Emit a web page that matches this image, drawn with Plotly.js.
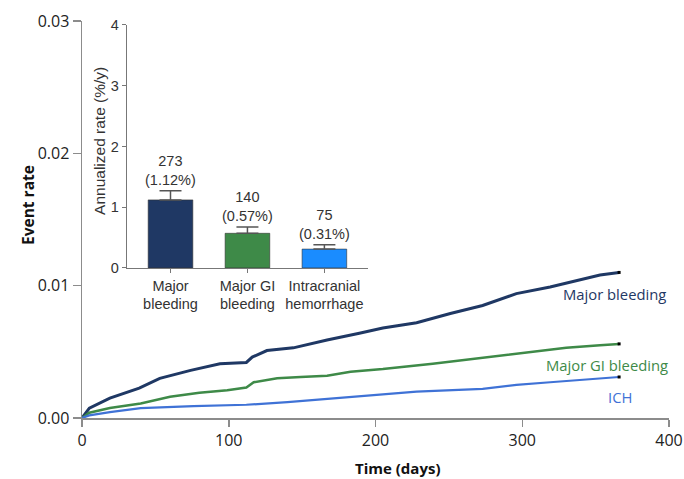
<!DOCTYPE html>
<html>
<head>
<meta charset="utf-8">
<script src="https://cdn.plot.ly/plotly-3.0.1.min.js"></script>
<style>html,body{margin:0;padding:0;background:#fff;}#chart{width:684px;height:479px;}</style>
</head>
<body>
<div id="chart"></div>
<script>
// Cumulative event-rate curves (days, event rate)
const majorDays = [0,5,19,39,53,74,94,112,116,126,144,167,189,205,228,251,273,285,296,319,341,353,366];
const majorRate = [0,0.00075,0.0015,0.00226,0.0030,0.0036,0.0041,0.0042,0.0046,0.0051,0.0053,0.0059,0.0064,0.0068,0.0072,0.0079,0.0085,0.0090,0.0094,0.0099,0.0105,0.0108,0.0110];
const giDays = [0,5,19,40,60,80,99,112,117,133,149,167,183,205,239,262,285,307,330,353,366];
const giRate = [0,0.0004,0.00075,0.0011,0.0016,0.0019,0.0021,0.0023,0.0027,0.0030,0.0031,0.0032,0.0035,0.0037,0.0041,0.0044,0.0047,0.0050,0.0053,0.0055,0.0056];
const ichDays = [0,5,19,40,76,112,140,186,228,273,296,319,341,366];
const ichRate = [0,0.0002,0.00045,0.00075,0.0009,0.0010,0.0012,0.0016,0.0020,0.0022,0.0025,0.0027,0.0029,0.0031];

// Inset bar chart
const barCategories = ["Major<br>bleeding","Major GI<br>bleeding","Intracranial<br>hemorrhage"];
const barRates = [1.12, 0.57, 0.31];
const barErrUpper = [0.15, 0.105, 0.07];
const barCounts = [273, 140, 75];
const barPctLabels = ["1.12%","0.57%","0.31%"];

// Curve labels
const curveLabels = ["Major bleeding","Major GI bleeding","ICH"];

const cNavy = "#1f3864", cGreen = "#3e8a48", cBlueLine = "#3f72d6", cBlueBar = "#1a8cff";
const mainFont = "Open Sans, sans-serif";
const insetFont = "Liberation Sans, Arial, sans-serif";

const traces = [
  {x: majorDays, y: majorRate, type: "scatter", mode: "lines", line: {color: cNavy, width: 3}, hoverinfo: "skip", showlegend: false},
  {x: giDays, y: giRate, type: "scatter", mode: "lines", line: {color: cGreen, width: 2.5}, hoverinfo: "skip", showlegend: false},
  {x: ichDays, y: ichRate, type: "scatter", mode: "lines", line: {color: cBlueLine, width: 2.2}, hoverinfo: "skip", showlegend: false},
  {x: [majorDays[majorDays.length-1], giDays[giDays.length-1], ichDays[ichDays.length-1]],
   y: [majorRate[majorRate.length-1], giRate[giRate.length-1], ichRate[ichRate.length-1]],
   type: "scatter", mode: "markers", marker: {color: "#000", size: 3, symbol: "square"}, hoverinfo: "skip", showlegend: false, cliponaxis: false},
  {x: [0,1,2], y: barRates, type: "bar", xaxis: "x2", yaxis: "y2", width: 0.58,
   marker: {color: [cNavy, cGreen, cBlueBar], line: {color: "#333", width: 0.6}},
   error_y: {type: "data", array: barErrUpper, arrayminus: [0,0,0], symmetric: false, color: "#555", thickness: 1.5, width: 11},
   hoverinfo: "skip", showlegend: false}
];

const annotations = [];
// bar value labels
for (let i = 0; i < barCounts.length; i++) {
  annotations.push({x: i, y: barRates[i] + barErrUpper[i], xref: "x2", yref: "y2", yanchor: "bottom", xanchor: "center",
    text: barCounts[i] + "<br>(" + barPctLabels[i] + ")", showarrow: false, yshift: 1,
    font: {family: insetFont, size: 14.5, color: "#333"}});
}
// curve labels
const curveLabelPos = [[363, 0.0094, cNavy], [358, 0.0040, cGreen], [366.5, 0.0016, cBlueLine]];
curveLabels.forEach((t, i) => {
  annotations.push({x: curveLabelPos[i][0], y: curveLabelPos[i][1], xref: "x", yref: "y", text: t, showarrow: false,
    xanchor: "center", yanchor: "middle", font: {family: mainFont, size: 14.8, color: curveLabelPos[i][2]}});
});
// axis titles
annotations.push({x: 0.537, y: -0.126, xref: "paper", yref: "paper", text: "<b>Time (days)</b>", showarrow: false,
  xanchor: "center", yanchor: "middle", font: {family: mainFont, size: 15, color: "#111"}});
annotations.push({x: -0.092, y: 0.5365, xref: "paper", yref: "paper", text: "<b>Event rate</b>", showarrow: false, textangle: -90,
  xanchor: "center", yanchor: "middle", font: {family: mainFont, size: 15.5, color: "#111"}});
annotations.push({x: 0.0307, y: 0.698, xref: "paper", yref: "paper", text: "Annualized rate (%/y)", showarrow: false, textangle: -90,
  xanchor: "center", yanchor: "middle", font: {family: insetFont, size: 15.5, color: "#333"}});

const layout = {
  width: 684, height: 479,
  margin: {l: 82, r: 15, t: 21, b: 61},
  paper_bgcolor: "#fff", plot_bgcolor: "rgba(0,0,0,0)",
  showlegend: false,
  xaxis: {domain: [0, 1], range: [0, 400], tickvals: [0,100,200,300,400], showgrid: false, zeroline: false,
    showline: true, linecolor: "#8c8c8c", linewidth: 1.5, ticks: "outside", ticklen: 7, tickwidth: 1.5, tickcolor: "#8c8c8c",
    tickfont: {family: mainFont, size: 16, color: "#222"}, fixedrange: true},
  yaxis: {domain: [0, 1], range: [0, 0.03], tickvals: [0, 0.01, 0.02, 0.03], tickformat: ".2f", showgrid: false, zeroline: false,
    showline: true, linecolor: "#8c8c8c", linewidth: 1.5, ticks: "outside", ticklen: 8, tickwidth: 1.5, tickcolor: "#8c8c8c",
    tickfont: {family: mainFont, size: 16, color: "#222"}, fixedrange: true},
  xaxis2: {domain: [0.0767, 0.487], anchor: "y2", range: [-0.565, 2.565], tickvals: [0,1,2], ticktext: barCategories,
    showgrid: false, zeroline: false, showline: true, linecolor: "#777", linewidth: 1.2, ticks: "outside", ticklen: 4, tickcolor: "#777",
    tickfont: {family: insetFont, size: 14.5, color: "#333"}, fixedrange: true},
  yaxis2: {domain: [0.378, 0.99], anchor: "x2", range: [0, 4], tickvals: [0,1,2,3,4], showgrid: false, zeroline: false,
    showline: true, linecolor: "#777", linewidth: 1.2, ticks: "outside", ticklen: 4, tickcolor: "#777",
    tickfont: {family: insetFont, size: 14.5, color: "#333"}, fixedrange: true},
  annotations: annotations
};

Plotly.newPlot("chart", traces, layout, {displayModeBar: false, staticPlot: true});
</script>
</body>
</html>
